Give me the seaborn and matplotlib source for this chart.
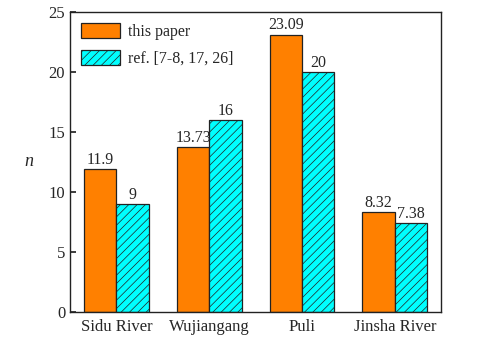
import pandas as pd
import matplotlib.pyplot as plt
import seaborn as sns

rivers = ["Sidu River", "Wujiangang", "Puli", "Jinsha River"]
this_paper = [11.9, 13.73, 23.09, 8.32]
reference = [9, 16, 20, 7.38]
series = ["this paper", "ref. [7-8, 17, 26]"]

df = pd.DataFrame({
    "river": rivers * 2,
    "n": this_paper + reference,
    "source": [series[0]] * 4 + [series[1]] * 4,
})

sns.set_theme(style="ticks")
plt.rcParams["font.family"] = ["Liberation Serif", "DejaVu Serif"]
plt.rcParams["hatch.color"] = "#2a95a5"
plt.rcParams["hatch.linewidth"] = 0.5

fig = plt.figure(figsize=(4.91, 3.51), dpi=100)
ax = fig.add_axes([0.1426, 0.111, 0.756, 0.855])

sns.barplot(data=df, x="river", y="n", hue="source", order=rivers,
            palette=["#ff8000", "#00ffff"], saturation=1,
            edgecolor="#222222", linewidth=0.9, width=0.7, ax=ax)

for bar in ax.containers[1]:
    bar.set_hatch("////")

for cont, vals in zip(ax.containers, [this_paper, reference]):
    ax.bar_label(cont, labels=[f"{v:g}" for v in vals], padding=1, fontsize=11.5)

ax.set_xlim(-0.5, 3.5)
ax.set_ylim(0, 25)
ax.set_yticks(range(0, 26, 5))
ax.set_xlabel("")
ax.set_ylabel("n", style="italic", fontsize=13, rotation=0, labelpad=14, va="center")
ax.tick_params(axis="y", direction="in", labelsize=12, length=4)
ax.tick_params(axis="x", length=0, labelsize=12, pad=5)
for s in ax.spines.values():
    s.set_linewidth(1.0)
    s.set_color("#222222")

leg = ax.legend(loc="upper left", fontsize=11.5, frameon=False,
                handlelength=2.4, handleheight=1.1, borderaxespad=0.3,
                labelspacing=0.6, handletextpad=0.5)
for h in leg.legend_handles[1:]:
    h.set_hatch("////")

fig.savefig("out.png", dpi=100)
